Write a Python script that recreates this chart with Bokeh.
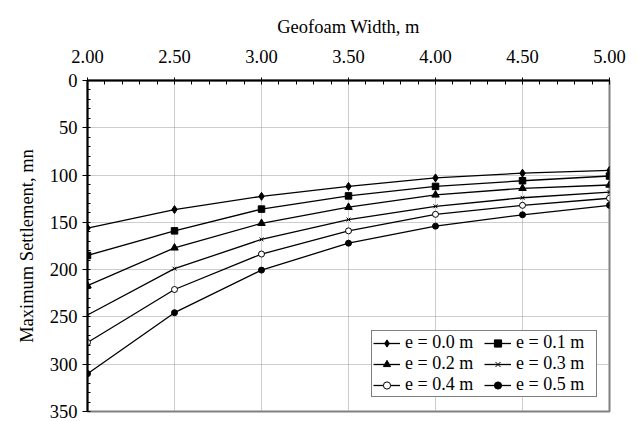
from bokeh.plotting import figure
from bokeh.models import Range1d, FixedTicker, Legend, LegendItem, NumeralTickFormatter
from bokeh.embed import file_html
from bokeh.resources import INLINE

width_m = [2.0, 2.5, 3.0, 3.5, 4.0, 4.5, 5.0]
e00 = [156, 136.5, 122.5, 112, 103, 98, 95]
e01 = [185, 159, 136, 122, 112, 106, 101]
e02 = [217, 177, 151, 134, 121, 114, 110.5]
e03 = [248, 199, 168, 147, 133, 124, 118]
e04 = [277, 221, 183.5, 159, 141.5, 132, 124.5]
e05 = [310, 245.5, 200.5, 172, 154, 142, 132]
labels = ["e = 0.0 m", "e = 0.1 m", "e = 0.2 m", "e = 0.3 m", "e = 0.4 m", "e = 0.5 m"]
series = [e00, e01, e02, e03, e04, e05]
x_ticks = [2.0, 2.5, 3.0, 3.5, 4.0, 4.5, 5.0]
y_ticks = [0, 50, 100, 150, 200, 250, 300, 350]

FONT = "Liberation Serif"
FS = "18.5px"

p = figure(width=638, height=421, output_backend="svg", toolbar_location=None,
           x_axis_location="above", x_range=Range1d(2.0, 5.0), y_range=Range1d(350, 0),
           min_border_left=87, min_border_right=29, min_border_top=80, min_border_bottom=10)

p.outline_line_color = "#808080"
p.outline_line_width = 2
p.background_fill_color = "white"
p.border_fill_color = "white"

xa = p.xaxis[0]
xa.ticker = FixedTicker(ticks=x_ticks, minor_ticks=[round(2.0 + 0.1 * i, 2) for i in range(31)])
xa.formatter = NumeralTickFormatter(format="0.00")
xa.axis_label = "Geofoam Width, m"
xa.axis_label_text_font = FONT
xa.axis_label_text_font_style = "normal"
xa.axis_label_text_font_size = FS
xa.axis_label_text_color = "black"
xa.axis_label_standoff = 10
xa.major_label_text_font = FONT
xa.major_label_text_font_size = FS
xa.major_label_text_color = "black"
xa.major_label_standoff = 15
xa.axis_line_color = "black"
xa.axis_line_width = 2
xa.major_tick_in = 3
xa.major_tick_out = 3
xa.major_tick_line_width = 1
xa.major_tick_line_color = "black"
xa.minor_tick_in = 4
xa.minor_tick_out = 0
xa.minor_tick_line_width = 1
xa.minor_tick_line_color = "black"

ya = p.yaxis[0]
ya.ticker = FixedTicker(ticks=y_ticks, minor_ticks=list(range(0, 351, 10)))
ya.axis_label = "Maximum Settlement, mn"
ya.axis_label_text_font = FONT
ya.axis_label_text_font_style = "normal"
ya.axis_label_text_font_size = FS
ya.axis_label_text_color = "black"
ya.axis_label_standoff = 10
ya.major_label_text_font = FONT
ya.major_label_text_font_size = FS
ya.major_label_text_color = "black"
ya.major_label_standoff = 5
ya.axis_line_color = "black"
ya.axis_line_width = 2
ya.major_tick_in = 0
ya.major_tick_out = 5
ya.major_tick_line_color = "black"
ya.minor_tick_in = 3
ya.minor_tick_out = 0
ya.minor_tick_line_color = "black"

for g in (p.xgrid[0], p.ygrid[0]):
    g.grid_line_color = "#9a9a9a"
    g.grid_line_dash = "1 1"
    g.grid_line_width = 1
p.xgrid[0].ticker = FixedTicker(ticks=x_ticks)
p.ygrid[0].ticker = FixedTicker(ticks=y_ticks)

markers = ["diamond", "square", "triangle", "x", "circle", "circle"]
sizes = [8, 6.5, 7.5, 5.5, 6, 6]
fills = ["black", "black", "black", "black", "white", "black"]

items = []
for s, lab, m, sz, fc in zip(series, labels, markers, sizes, fills):
    r1 = p.line(width_m, s, line_color="black", line_width=1.3)
    r2 = p.scatter(width_m, s, marker=m, size=sz, fill_color=fc, line_color="black", line_width=1)
    items.append(LegendItem(label=lab, renderers=[r1, r2]))

legend = Legend(items=items, orientation="horizontal", ncols=2, location=(284, 14),
                label_text_font=FONT, label_text_font_size="18px", label_text_color="black",
                border_line_color="black", border_line_width=1,
                background_fill_color="white", background_fill_alpha=1,
                padding=1, spacing=0, margin=0, glyph_width=27, glyph_height=18,
                label_standoff=5, label_height=18, label_width=79,
                item_background_fill_alpha=0)
p.add_layout(legend)

open("out.html", "w").write(file_html(p, INLINE))
